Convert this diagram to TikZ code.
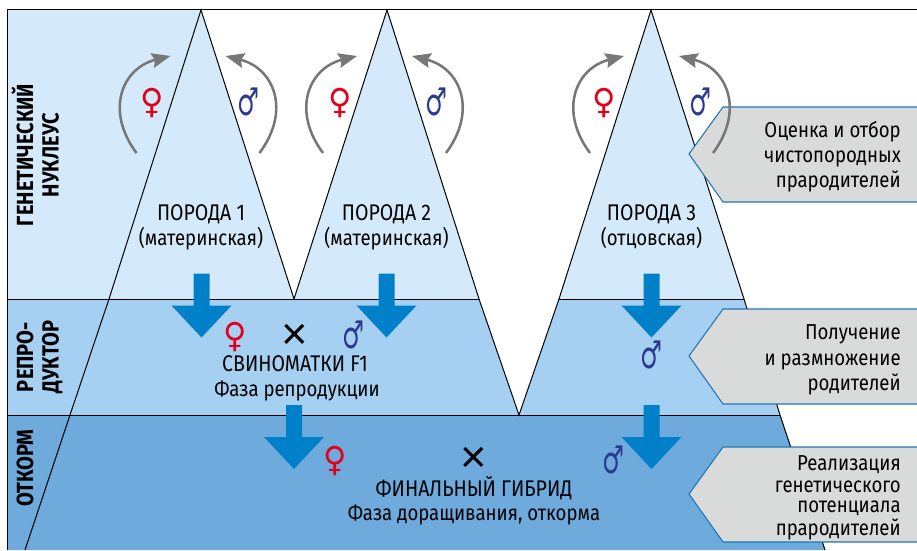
\documentclass[tikz,border=0pt]{standalone}
\usepackage{fontspec}
\setmainfont{Fira Sans}[FakeStretch=0.86]
\newfontfamily\signfont{DejaVu Sans}
\newfontfamily\crossfont{Liberation Sans}
\usetikzlibrary{arrows.meta}
\definecolor{lightband}{HTML}{D4E9F9}
\definecolor{midband}{HTML}{A6D0F1}
\definecolor{darkband}{HTML}{6FAADD}
\definecolor{arrowblue}{HTML}{0080C8}
\definecolor{tagfill}{HTML}{D9DADA}
\definecolor{tagline}{HTML}{1F75B5}
\definecolor{femalered}{HTML}{E2001A}
\definecolor{maleblue}{HTML}{2B3990}
\definecolor{loopgrey}{HTML}{777777}
\newcommand{\downshape}[2]{\fill[arrowblue] (#1-8,#2) -- (#1+8,#2) -- (#1+8,#2+32) -- (#1+30,#2+32)
	-- (#1,#2+64) -- (#1-30,#2+32) -- (#1-8,#2+32) -- cycle;}
\tikzset{
	edge/.style={black, line width=0.75pt},
	loopline/.style={draw=loopgrey, line width=1.9pt, -{Stealth[length=14pt, width=11pt, inset=2pt]}},
	tag/.style={fill=tagfill, draw=tagline, line width=0.8pt},
	tagtext/.style={anchor=base east, inner sep=0pt, font=\fontsize{16.2}{18}\selectfont},
	maintext/.style={anchor=base, inner sep=0pt, font=\fontsize{16.2}{18}\selectfont},
	capstext/.style={anchor=base, inner sep=0pt, font=\fontsize{17}{19}\selectfont},
	sidetext/.style={rotate=90, anchor=base, inner sep=0pt, font=\fontsize{17.5}{19}\selectfont\bfseries},
	female/.style={femalered, inner sep=0pt, yscale=1.08, font=\signfont\fontsize{24}{24}\selectfont},
	male/.style={maleblue, inner sep=0pt, xscale=0.8, yscale=1.25, font=\signfont\fontsize{23}{23}\selectfont},
	cross/.style={inner sep=0pt, font=\crossfont\fontsize{34}{34}\selectfont}
}
\begin{document}
\begin{tikzpicture}[x=0.75pt, y=-0.75pt]
	\useasboundingbox (0,0) rectangle (917,550);

	% bands
	\fill[lightband] (7,10) -- (201,10) -- (294,299) -- (7,299) -- cycle;
	\fill[lightband] (294,299) -- (387,10) -- (479,299) -- cycle;
	\fill[lightband] (559,299) -- (651,10) -- (744,299) -- cycle;
	\fill[midband] (7,299) -- (479,299) -- (519,415) -- (559,299) -- (744,299) -- (780,415) -- (7,415) -- cycle;
	\fill[darkband] (7,415) -- (780,415) -- (825,550) -- (7,550) -- cycle;

	% outlines
	\draw[edge] (7,550) -- (7,9.5) -- (917,9.5);
	\draw[edge] (7,299) -- (479,299);
	\draw[edge] (559,299) -- (744,299);
	\draw[edge] (7,415) -- (780,415);
	\draw[edge] (25,550) -- (70,415) -- (109,299) -- (201,10) -- (294,299) -- (387,10) -- (479,299) -- (519,415) -- (559,299)
		-- (651,10) -- (744,299) -- (780,415) -- (825,550);

	% tags
	\draw[tag] (917,107) -- (723,107) -- (689,154) -- (723,202) -- (917,202);
	\draw[tag] (917,309) -- (723,309) -- (689,356) -- (723,404) -- (917,404);
	\draw[tag] (917,447) -- (723,447) -- (689,494) -- (723,542) -- (917,542);

	% breeding arcs
	\foreach \cx in {198.5,385,652} {
		\coordinate (lstart) at (\cx-62,153);
		\coordinate (ltip) at (\cx-28,56);
		\coordinate (rstart) at (\cx+61,153);
		\coordinate (rtip) at (\cx+27,56);
		\draw[loopline] (lstart) .. controls (\cx-94,110) and (\cx-76,68) .. (ltip);
		\draw[loopline] (rstart) .. controls (\cx+93,110) and (\cx+75,68) .. (rtip);
	}

	% flow arrows
	\downshape{201.5}{273.5}
	\downshape{386.5}{273.5}
	\downshape{651.5}{273.5}
	\downshape{294}{405}
	\downshape{651.5}{405}

	% signs
	\node[female] (f1) at (152,103) {♀};
	\node[male] (m1) at (248,102) {♂};
	\node[female] (f2) at (340,103) {♀};
	\node[male] (m2) at (436,102) {♂};
	\node[female] (f3) at (604,103) {♀};
	\node[male] (m3) at (700,102) {♂};
	\node[female] (fsow) at (235,337) {♀};
	\node[cross] (xsow) at (295,337) {×};
	\node[male] (msow) at (353,335) {♂};
	\node[male] (mrep) at (651,355) {♂};
	\node[female] (ffin) at (335,461) {♀};
	\node[cross] (xfin) at (474,460) {×};
	\node[male] (mfin) at (613,460) {♂};

	% labels
	\node[capstext] (breed1) at (201,220) {ПОРОДА 1};
	\node[maintext] (kind1) at (201,245) {(материнская)};
	\node[capstext] (breed2) at (386.5,220) {ПОРОДА 2};
	\node[maintext] (kind2) at (386.5,245) {(материнская)};
	\node[capstext] (breed3) at (651.5,220) {ПОРОДА 3};
	\node[maintext] (kind3) at (651.5,245) {(отцовская)};
	\node[capstext] (sow) at (295,371.7) {СВИНОМАТКИ F1};
	\node[maintext] (sowphase) at (297,396.7) {Фаза репродукции};
	\node[capstext] (final) at (474,496.7) {ФИНАЛЬНЫЙ ГИБРИД};
	\node[maintext] (finalphase) at (474,520.7) {Фаза доращивания, откорма};

	\node[sidetext] (nuc1) at (33,155) {ГЕНЕТИЧЕСКИЙ};
	\node[sidetext] (nuc2) at (58.5,155) {НУКЛЕУС};
	\node[sidetext] (rep1) at (33,357) {РЕПРО-};
	\node[sidetext] (rep2) at (58.5,357) {ДУКТОР};
	\node[sidetext] (fat) at (33,468) {ОТКОРМ};

	\node[tagtext] (t11) at (901,137.7) {Оценка и отбор};
	\node[tagtext] (t12) at (901,162.7) {чистопородных};
	\node[tagtext] (t13) at (901,187.7) {прародителей};
	\node[tagtext] (t21) at (901,339.3) {Получение};
	\node[tagtext] (t22) at (901,365) {и размножение};
	\node[tagtext] (t23) at (901,390) {родителей};
	\node[tagtext] (t31) at (901,470.7) {Реализация};
	\node[tagtext] (t32) at (901,492) {генетического};
	\node[tagtext] (t33) at (901,512.7) {потенциала};
	\node[tagtext] (t34) at (901,535) {прародителей};
\end{tikzpicture}
\end{document}
